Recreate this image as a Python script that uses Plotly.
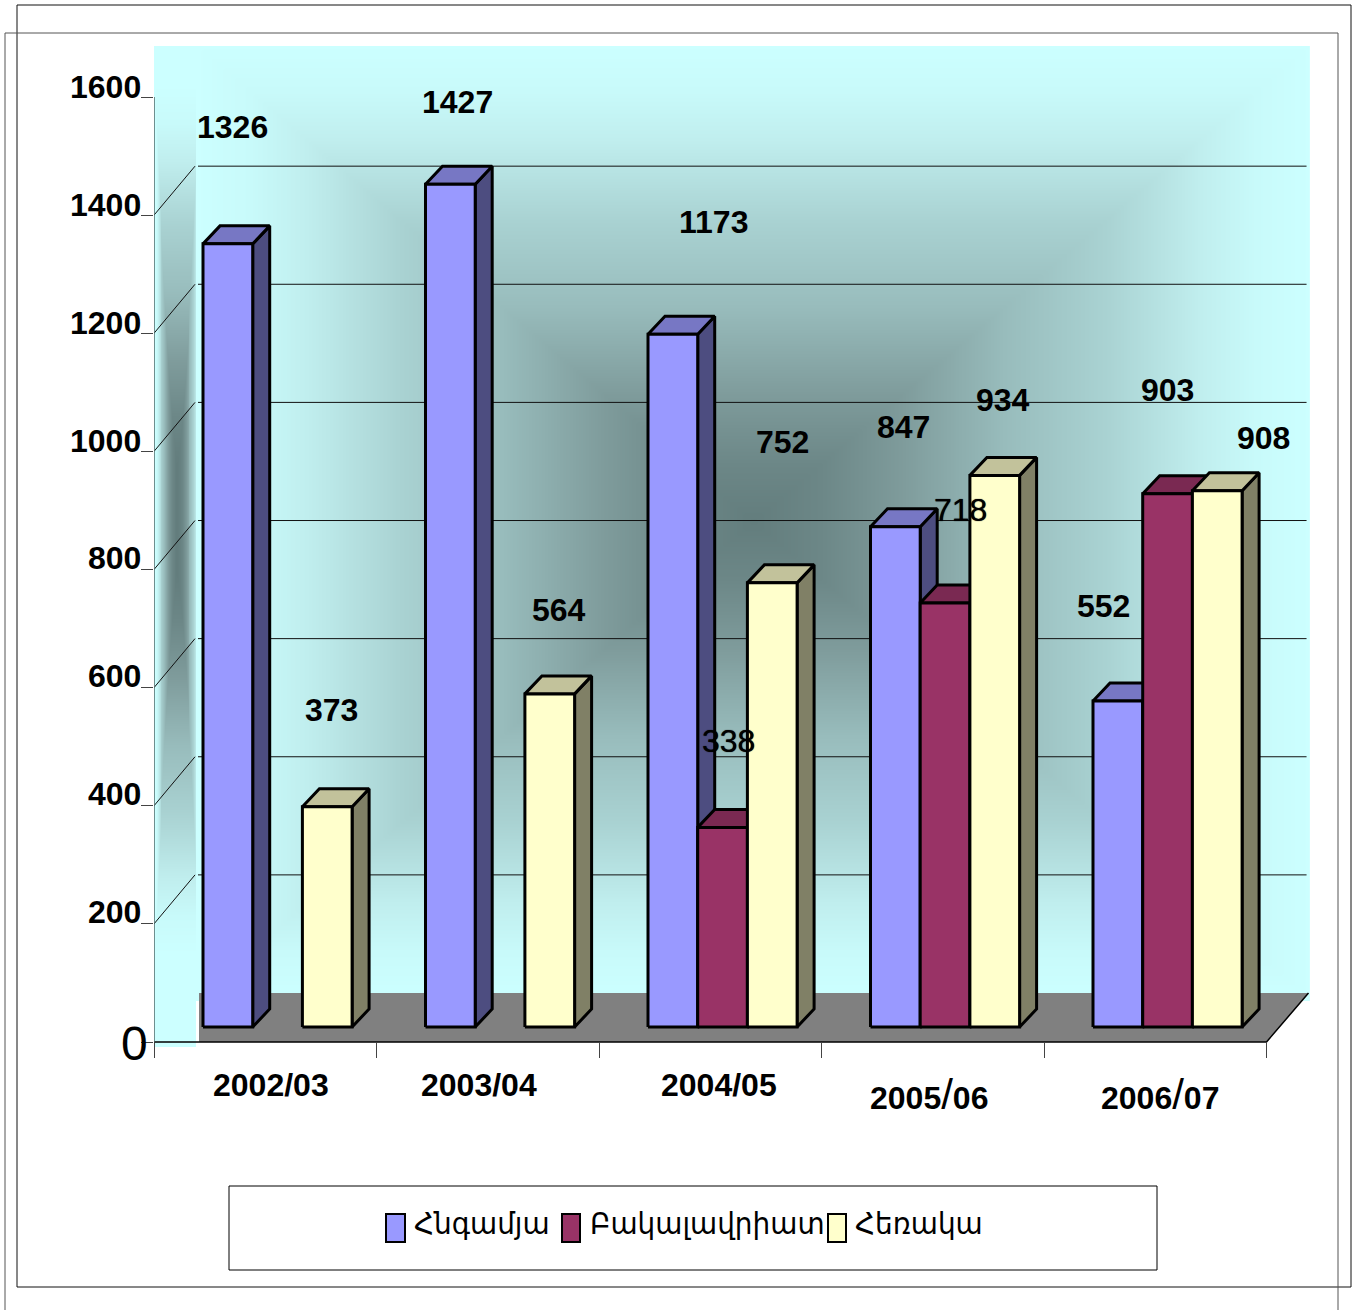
import numpy as np
import plotly.graph_objects as go

categories = ["2002/03", "2003/04", "2004/05", "2005/06", "2006/07"]
series_names = ["Հնգամյա", "Բակալավրիատ", "Հեռակա"]
five_year = [1326, 1427, 1173, 847, 552]
bachelor = [None, None, 338, 718, 903]
distance = [373, 564, 752, 934, 908]
y_ticks = [0, 200, 400, 600, 800, 1000, 1200, 1400, 1600]

front_colors = ["#9999ff", "#993366", "#ffffcc"]
top_colors = ["#7777c4", "#7a2952", "#c2c29b"]
side_colors = ["#4d4d80", "#4d1a33", "#808066"]

W, H = 1357, 1310
# page pixels of the plot area and scale of the axes
PX_LEFT, PX_RIGHT, PX_TOP, PX_BOTTOM = 154, 1310, 46, 1047
PX_ZERO = 1042
PX_PER_CAT = 222.5
PX_PER_UNIT = 0.5906

BAR_START = 49 / PX_PER_CAT
BAR_W = 49.7 / PX_PER_CAT
BASE = 15 / PX_PER_UNIT  # bars stand on the floor, in front of the back wall
BAR_DX = 17 / PX_PER_CAT
BAR_DY = 18 / PX_PER_UNIT
WALL_DX = 42 / PX_PER_CAT
WALL_DY = 49 / PX_PER_UNIT

# label centres on the page
value_label_px = {
    "five_year": [(232, 127), (457, 102), (713, 222), (903, 427), (1103, 606)],
    "bachelor": [None, None, (728, 741), (960, 510), (1167, 390)],
    "distance": [(331, 710), (559, 610), (782, 442), (1003, 400), (1263, 438)],
}
cat_label_px = [(271, 1085), (479, 1085), (719, 1085), (929, 1094), (1160, 1094)]
swatch_px = [(386, 405), (562, 580), (828, 846)]
legend_text_px = [412, 588, 853]


def px(x):
    return x / W


def py(y):
    return 1 - y / H


fig = go.Figure()

# back wall, a rectangular path gradient
wall_x = np.linspace(WALL_DX, 5.2, 260)
wall_y = np.linspace(WALL_DY - 10, 1690, 260)
cx, cy = (wall_x[0] + wall_x[-1]) / 2, (wall_y[0] + wall_y[-1]) / 2
wall_z = np.maximum.outer(
    np.abs(wall_y - cy) / (wall_y[-1] - cy), np.abs(wall_x - cx) / (wall_x[-1] - cx)
)
wall_scale = [
    [0, "#637d7d"],
    [0.12, "#6c8787"],
    [0.27, "#7f9c9c"],
    [0.45, "#98bcbc"],
    [0.63, "#a9d2d2"],
    [0.8, "#c0eeee"],
    [0.9, "#c8fafa"],
    [1, "#ccffff"],
]
fig.add_trace(
    go.Heatmap(x=wall_x, y=wall_y, z=wall_z, colorscale=wall_scale, showscale=False,
               zmin=0, zmax=1, hoverinfo="skip", zsmooth="best")
)

# left wall, same gradient squeezed into the side strip
side_x = np.linspace(0, WALL_DX, 46)
side_y = np.linspace(-8, 1686, 200)
sx, sy = 23 / PX_PER_CAT, 885
side_z = np.maximum.outer(
    np.clip((np.abs(side_y - sy) / 800 - 0.12) * 1.25, 0, 1),
    (np.abs(side_x - sx) / (22 / PX_PER_CAT)) ** 1.5,
)
fig.add_trace(
    go.Heatmap(x=side_x, y=side_y, z=np.clip(side_z, 0, 1), colorscale=wall_scale,
               showscale=False, zmin=0, zmax=1, hoverinfo="skip", zsmooth="best")
)

# gridlines on both walls
grid_x, grid_y = [], []
for v in y_ticks[1:-1]:
    grid_x += [0, WALL_DX - 1 / PX_PER_CAT, None, WALL_DX + 2 / PX_PER_CAT, 5.18, None]
    grid_y += [v, v + WALL_DY, None, v + WALL_DY, v + WALL_DY, None]
fig.add_trace(go.Scatter(x=grid_x, y=grid_y, mode="lines", hoverinfo="skip",
                         line={"color": "#111111", "width": 1}, showlegend=False))

# floor
floor_left = 45 / PX_PER_CAT
fig.add_trace(go.Scatter(x=[floor_left, 5 + WALL_DX, 5, floor_left, floor_left],
                         y=[WALL_DY, WALL_DY, 0, 0, WALL_DY],
                         mode="lines", fill="toself", fillcolor="#808080",
                         line={"width": 0}, hoverinfo="skip", showlegend=False))
fig.add_trace(go.Scatter(x=[0, 5, 5 + WALL_DX], y=[0, 0, WALL_DY], mode="lines",
                         line={"color": "#000000", "width": 1.5},
                         hoverinfo="skip", showlegend=False))
fig.add_trace(go.Scatter(x=[0, 0], y=[0, 1600], mode="lines",
                         line={"color": "#4f6a6a", "width": 1.5},
                         hoverinfo="skip", showlegend=False))


def add_face(xs, ys, color):
    fig.add_trace(go.Scatter(x=xs, y=ys, mode="lines", fill="toself", fillcolor=color,
                             line={"color": "#000000", "width": 3},
                             hoverinfo="skip", showlegend=False))


# bars, drawn back to front so that neighbours hide each other like in 3D
all_series = [five_year, bachelor, distance]
for i in range(len(categories)):
    for s, values in enumerate(all_series):
        v = values[i]
        if v is None:
            continue
        x0 = i + BAR_START + s * BAR_W
        x1 = x0 + BAR_W
        top = BASE + v
        add_face([x1, x1 + BAR_DX, x1 + BAR_DX, x1, x1],
                 [BASE, BASE + BAR_DY, top + BAR_DY, top, BASE], side_colors[s])
        add_face([x0, x0 + BAR_DX, x1 + BAR_DX, x1, x0],
                 [top, top + BAR_DY, top + BAR_DY, top, top], top_colors[s])
        add_face([x0, x1, x1, x0, x0], [BASE, BASE, top, top, BASE], front_colors[s])

annotations = []


def add_text(x, y, text, size=32, bold=True, xanchor="center", family="Liberation Sans", heavy=False):
    font = {"family": family, "size": size, "color": "#000000"}
    if heavy:
        font["shadow"] = "0 0 1px #000000"
    annotations.append(dict(
        x=px(x), y=py(y), xref="paper", yref="paper", text=f"<b>{text}</b>" if bold else text,
        showarrow=False, xanchor=xanchor, yanchor="middle", font=font,
    ))


# y axis labels sit a little above their ticks
for v in y_ticks[1:]:
    add_text(142.5, PX_ZERO - v * PX_PER_UNIT - (10 if v >= 1000 else 12), str(v), xanchor="right")
add_text(150, 1043, "0", size=48, bold=False, xanchor="right")

for key, values in zip(["five_year", "bachelor", "distance"], all_series):
    for v, pos in zip(values, value_label_px[key]):
        if v is None:
            continue
        thin = v in (338, 718)
        add_text(pos[0], pos[1], str(v), bold=not thin, heavy=thin)

for i, (name, pos) in enumerate(zip(categories, cat_label_px)):
    # the last two labels have a taller, thinner slash in the source
    label = name
    if i >= 3:
        label = name.replace("/", '<span style="font-size:42px;font-weight:normal">/</span>')
    add_text(pos[0], pos[1], label)

shapes = [
    dict(type="rect", xref="paper", yref="paper", x0=px(17), x1=px(1351), y0=py(5), y1=py(1287),
         line={"color": "#111111", "width": 1}),
    dict(type="rect", xref="paper", yref="paper", x0=px(5), x1=px(1338), y0=py(33), y1=py(1330),
         line={"color": "#555555", "width": 1}),
    dict(type="rect", xref="paper", yref="paper", x0=px(229), x1=px(1157), y0=py(1186), y1=py(1270),
         line={"color": "#000000", "width": 1}),
]
for (a, b), color, name, tx in zip(swatch_px, front_colors, series_names, legend_text_px):
    shapes.append(dict(type="rect", xref="paper", yref="paper", x0=px(a), x1=px(b),
                       y0=py(1214), y1=py(1242), fillcolor=color,
                       line={"color": "#000000", "width": 2}))
    add_text(tx, 1223, name, size=31, bold=False, xanchor="left", family="DejaVu Sans Condensed")

fig.update_layout(
    width=W,
    height=H,
    margin={"l": 0, "r": 0, "t": 0, "b": 0},
    autosize=False,
    paper_bgcolor="#ffffff",
    plot_bgcolor="#ffffff",
    showlegend=False,
    shapes=shapes,
    annotations=annotations,
    xaxis={
        "domain": [px(PX_LEFT), px(PX_RIGHT)],
        "range": [0, (PX_RIGHT - PX_LEFT) / PX_PER_CAT],
        "tickvals": list(range(len(categories) + 1)),
        "showticklabels": False,
        "ticks": "outside",
        "ticklen": 15,
        "tickcolor": "#444444",
        "showgrid": False,
        "zeroline": False,
        "showline": False,
        "anchor": "free",
        "position": py(PX_ZERO),
    },
    yaxis={
        "domain": [py(PX_BOTTOM), py(PX_TOP)],
        "range": [(PX_ZERO - PX_BOTTOM) / PX_PER_UNIT, (PX_ZERO - PX_TOP) / PX_PER_UNIT],
        "tickvals": y_ticks,
        "showticklabels": False,
        "ticks": "outside",
        "ticklen": 12,
        "tickcolor": "#444444",
        "showgrid": False,
        "zeroline": False,
        "showline": False,
    },
)

fig.write_html(
    "out.html",
    config={"displayModeBar": False},
    post_script="document.body.style.margin='0';document.body.style.overflow='hidden';",
)
